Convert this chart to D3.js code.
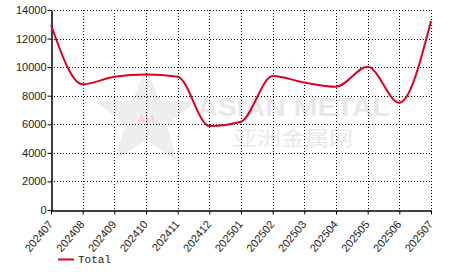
<!DOCTYPE html>
<html><head><meta charset="utf-8">
<script src="https://cdn.jsdelivr.net/npm/d3@7"></script>
<style>body{margin:0;background:#fff;}svg{display:block;}</style>
</head><body>
<svg id="c" width="466" height="272"></svg>
<script>
const months = ["202407","202408","202409","202410","202411","202412","202501","202502","202503","202504","202505","202506","202507"];
const totalValues = [12950, 8800, 9330, 9480, 9330, 5880, 6180, 9380, 8920, 8630, 10030, 7510, 13230];
const yTicks = [0, 2000, 4000, 6000, 8000, 10000, 12000, 14000];
const seriesName = "Total";

const svg = d3.select("#c");
const L = 51, R = 431, T = 10, B = 210;
const x = d3.scalePoint().domain(months).range([L, R]);
const y = d3.scaleLinear().domain([0, 14000]).range([B, T]);

// watermark
const wm = svg.append("g");
const cx = 146, cy = 118, ro = 52, ri = 22;
const pts = d3.range(10).map(i => {
  const a = -Math.PI/2 + i*Math.PI/5;
  const r = i % 2 ? ri : ro;
  return [cx + r*Math.cos(a), cy + r*Math.sin(a)];
});
wm.append("polygon").attr("points", pts.map(p=>p.join(",")).join(" "))
  .attr("fill", "#eeeeee");
wm.append("text").attr("x", cx).attr("y", cy+5).attr("text-anchor","middle")
  .attr("font-family","Liberation Sans, Arial").attr("font-size",11).attr("fill","#f6c9cc").text("AM");
wm.append("text").attr("x", 197).attr("y", 116)
  .attr("font-family","Liberation Sans, Arial").attr("font-weight","bold").attr("font-size",25)
  .attr("fill","#e8e8e8").attr("textLength",193).attr("lengthAdjust","spacingAndGlyphs").text("ASIAN METAL");
wm.append("text").attr("x", 233).attr("y", 146)
  .attr("font-family","Noto Sans CJK SC").attr("font-size",20)
  .attr("fill","#e8e8e8").attr("textLength",120).attr("lengthAdjust","spacingAndGlyphs").text("亚洲金属网");

// grid
const grid = svg.append("g").attr("stroke","#000").attr("stroke-width",1).attr("stroke-dasharray","1,2").attr("shape-rendering","crispEdges");
yTicks.filter(t=>t>0).forEach(t=>{
  grid.append("line").attr("x1",L).attr("x2",R).attr("y1",Math.round(y(t))+0.5).attr("y2",Math.round(y(t))+0.5);
});
months.slice(1).forEach(m=>{
  grid.append("line").attr("x1",Math.round(x(m))+0.5).attr("x2",Math.round(x(m))+0.5).attr("y1",T).attr("y2",B);
});

// axes
const yAxis = svg.append("g").attr("transform",`translate(${L+0.5},0)`)
  .call(d3.axisLeft(y).tickValues(yTicks).tickSize(4).tickSizeOuter(0).tickFormat(d3.format("d")));
const xAxis = svg.append("g").attr("transform",`translate(0,${B+0.5})`)
  .call(d3.axisBottom(x).tickSize(4).tickSizeOuter(0));
[yAxis, xAxis].forEach(a=>{
  a.select(".domain").attr("stroke","#000").attr("stroke-width",1.5);
  a.selectAll(".tick line").attr("stroke","#000");
  a.selectAll("text").attr("font-family","Liberation Sans, Arial").attr("font-size",11).attr("fill","#222");
});
yAxis.selectAll("text").attr("x",-5);
xAxis.selectAll("text").attr("text-anchor","end").attr("dy",0)
  .attr("transform","translate(2,14) rotate(-50)").attr("x",0).attr("y",0);

// line
svg.append("path").datum(totalValues)
  .attr("fill","none").attr("stroke","#e0001b").attr("stroke-width",2)
  .attr("d", d3.line().x((d,i)=>x(months[i])).y(d=>y(d)).curve(d3.curveMonotoneX));

// legend
svg.append("line").attr("x1",58).attr("x2",74).attr("y1",259.5).attr("y2",259.5)
  .attr("stroke","#e0001b").attr("stroke-width",2);
svg.append("text").attr("x",78).attr("y",263).attr("font-family","Liberation Mono, Courier New, monospace")
  .attr("font-size",11).attr("fill","#222").text(seriesName);
</script>
</body></html>
